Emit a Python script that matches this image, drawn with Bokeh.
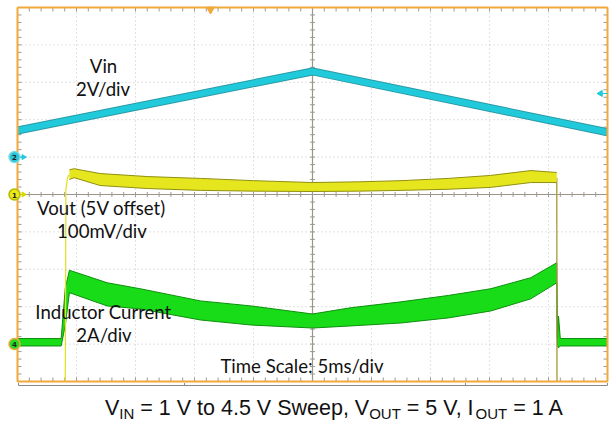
import numpy as np
from bokeh.plotting import figure
from bokeh.models import Range1d
from bokeh.core.properties import value
from bokeh.embed import file_html
from bokeh.resources import INLINE

# ---------------- data (read from the scope capture) ----------------
# Channel 2: Vin, 2 V/div, volts vs time (ms)
vin_t = [-25.0, 0.0, 25.0]
vin_v = [1.42, 4.58, 1.33]

# Channel 1: Vout (5 V offset), 100 mV/div, ripple envelope in mV
vout_t  = [-20.6, -20.2, -18.0, -14.0, -9.5, -5.0, 0.0, 4.0, 7.5, 11.5, 15.1, 18.5, 20.2, 20.7]
vout_hi = [66, 69, 56, 48, 43, 37, 32, 34, 37, 43, 51, 64, 60, 59]
vout_lo = [40, 45, 24, 16, 11, 9, 8, 9, 11, 14, 19, 32, 32, 32]
# Vout turn-on / turn-off edges (mV)
vout_on_t = [-20.95, -20.9, -20.75, -20.6]
vout_on_v = [-500, 15, 45, 53]
vout_off_t = [20.7, 20.72]
vout_off_v = [45, -500]

# Channel 4: inductor current, 2 A/div, ripple envelope in A
il_t  = [-25.0, -21.3, -20.95, -20.6, -17.4, -14.6, -9.5, -5.2, 0.0, 3.2, 7.5, 11.5, 15.1, 18.5, 20.7, 20.75, 20.85, 21.0, 25.0]
il_hi = [0.3, 0.3, 3.0, 3.95, 3.28, 2.96, 2.31, 2.04, 1.61, 1.94, 2.26, 2.6, 2.96, 3.55, 4.35, 0.3, 1.5, 0.3, 0.3]
il_lo = [-0.1, -0.1, 1.0, 2.75, 2.04, 1.88, 1.29, 1.02, 0.86, 0.97, 1.13, 1.4, 1.77, 2.42, 3.28, -0.1, -0.2, -0.1, -0.1]

# scope settings
TIME_PER_DIV = 5.0       # ms/div
CH1_POS, CH1_SCALE = 0.0, 100.0   # div, mV/div
CH2_POS, CH2_SCALE = 1.0, 2.0     # div, V/div
CH4_POS, CH4_SCALE = -4.0, 2.0    # div, A/div

annotations = ["Vin", "2V/div", "Vout (5V offset)", "100mV/div",
               "Inductor Current", "2A/div", "Time Scale: 5ms/div"]

# ---------------- page geometry ----------------
W, H = 612, 423
PX_DIV_X, PX_DIV_Y = 59.0, 37.4
CX, CY = 312.0, 194.0          # canvas px of screen centre
BASE_FIX = 0.34                # em: baseline correction for text placement

def px2x(px):  # canvas px -> ms
    return (px - CX) / PX_DIV_X * TIME_PER_DIV

def py2y(py):  # canvas px -> div
    return (CY - py) / PX_DIV_Y

x0, x1 = px2x(0), px2x(W)
y0, y1 = py2y(H), py2y(0)

p = figure(width=W, height=H, output_backend="svg", toolbar_location=None,
           x_range=Range1d(x0, x1), y_range=Range1d(y0, y1),
           x_axis_location=None, y_axis_location=None, min_border=0)
p.outline_line_color = None
p.grid.visible = False
p.background_fill_color = "white"

p.extra_y_ranges = {
    "vin": Range1d((y0 - CH2_POS) * CH2_SCALE, (y1 - CH2_POS) * CH2_SCALE),
    "vout": Range1d((y0 - CH1_POS) * CH1_SCALE, (y1 - CH1_POS) * CH1_SCALE),
    "il": Range1d((y0 - CH4_POS) * CH4_SCALE, (y1 - CH4_POS) * CH4_SCALE),
}

XL, XR = -5 * TIME_PER_DIV, 5 * TIME_PER_DIV
YB, YT = -5.0, 5.0

# ---------------- graticule ----------------
gx = [k * TIME_PER_DIV for k in range(-4, 5) if k != 0]
p.segment(x0=gx, y0=[YB] * len(gx), x1=gx, y1=[YT] * len(gx),
          line_color="#c4c4c4", line_width=1, line_dash="1 3")
gy = [k for k in range(-4, 5) if k != 0]
p.segment(x0=[XL] * len(gy), y0=gy, x1=[XR] * len(gy), y1=gy,
          line_color="#c4c4c4", line_width=1, line_dash="1 3")
# centre lines
p.segment(x0=[0, XL], y0=[YB, 0], x1=[0, XR], y1=[YT, 0],
          line_color="#9c9486", line_width=1.2)

# minor ticks
mx = np.arange(XL, XR + 1e-9, TIME_PER_DIV / 5)
my = np.arange(YB, YT + 1e-9, 0.2)
tl_y = 4 / PX_DIV_Y
tl_x = 4 / PX_DIV_X * TIME_PER_DIV
cl_y = 2.5 / PX_DIV_Y
cl_x = 2.5 / PX_DIV_X * TIME_PER_DIV
tick_col = "#9a9a9a"
p.segment(x0=mx, y0=[YT] * len(mx), x1=mx, y1=[YT - tl_y] * len(mx), line_color=tick_col)
p.segment(x0=mx, y0=[YB] * len(mx), x1=mx, y1=[YB + tl_y] * len(mx), line_color=tick_col)
p.segment(x0=mx, y0=[-cl_y] * len(mx), x1=mx, y1=[cl_y] * len(mx), line_color=tick_col)
p.segment(x0=[XL] * len(my), y0=my, x1=[XL + tl_x] * len(my), y1=my, line_color=tick_col)
p.segment(x0=[XR] * len(my), y0=my, x1=[XR - tl_x] * len(my), y1=my, line_color=tick_col)
p.segment(x0=[-cl_x] * len(my), y0=my, x1=[cl_x] * len(my), y1=my, line_color=tick_col)

# ---------------- traces ----------------
# inductor current (green)
p.varea(x=il_t, y1=il_lo, y2=il_hi, y_range_name="il", fill_color="#19dc19")
p.line(il_t, il_hi, y_range_name="il", line_color="#0e8f0e", line_width=1)
p.line(il_t, il_lo, y_range_name="il", line_color="#0e8f0e", line_width=1)

# Vout (yellow)
p.line(vout_on_t, vout_on_v, y_range_name="vout", line_color="#e2e22a", line_width=1.3)
p.line(vout_off_t, vout_off_v, y_range_name="vout", line_color="#a89a3a", line_width=1.3)
p.varea(x=vout_t, y1=vout_lo, y2=vout_hi, y_range_name="vout", fill_color="#e6e61e")
p.line(vout_t, vout_hi, y_range_name="vout", line_color="#8f8f10", line_width=1)
p.line(vout_t, vout_lo, y_range_name="vout", line_color="#8f8f10", line_width=1)

# Vin (cyan)
p.line(vin_t, vin_v, y_range_name="vin", line_color="#2a9aa6", line_width=8)
p.line(vin_t, vin_v, y_range_name="vin", line_color="#20cadb", line_width=6)

# ---------------- frame border ----------------
p.segment(x0=[XL, XR, XL, XL], y0=[YB, YB, YT, YB], x1=[XL, XR, XR, XR], y1=[YT, YT, YT, YB],
          line_color="#f2a93b", line_width=2)
# overview bar below
p.segment(x0=[px2x(18)], y0=[py2y(385)], x1=[px2x(607)], y1=[py2y(385)],
          line_color="#8a8a8a", line_width=1)
p.segment(x0=[px2x(18), px2x(607), px2x(184), px2x(465)],
          y0=[py2y(385)] * 4,
          x1=[px2x(18), px2x(607), px2x(184), px2x(465)],
          y1=[py2y(382.5)] * 4, line_color="#8a8a8a", line_width=1)

# trigger position marker (top) and trigger level (right)
p.scatter([px2x(210)], [py2y(9)], marker="inverted_triangle", size=8,
          fill_color="#f2a93b", line_color="#f2a93b")
p.segment(x0=[px2x(599)], y0=[py2y(93)], x1=[px2x(607)], y1=[py2y(93)],
          line_color="#20cadb", line_width=1.2)
p.scatter([px2x(600)], [py2y(93)], marker="triangle", angle=np.pi / 2, size=6,
          fill_color="#20cadb", line_color="#20cadb")

# channel ground markers
mk_x = px2x(14)
ar_x = px2x(23)
for rng, lbl, fill, edge, arrow in [("vin", "2", "#2cc6d8", "#7adbe6", "#20cadb"),
                                    ("vout", "1", "#e8e81a", "#b9b900", "#d8d800"),
                                    ("il", "4", "#22dd22", "#f2a93b", None)]:
    if arrow:
        p.segment(x0=[mk_x], y0=[0], x1=[ar_x], y1=[0], y_range_name=rng,
                  line_color=arrow, line_width=1.2)
        p.scatter([ar_x], [0], y_range_name=rng, marker="triangle", angle=-np.pi / 2,
                  size=5, fill_color=arrow, line_color=arrow)
    p.scatter([mk_x], [0], y_range_name=rng, marker="circle", size=11,
              fill_color=fill, line_color=edge, line_width=1.5)
    p.text([mk_x], [0], text=[lbl], y_range_name=rng, text_font_size="7px",
           text_font=value("DejaVu Sans"), text_font_style="bold",
           text_align="center", text_baseline="middle", text_color="#222222")

# ---------------- annotation texts ----------------
ANN_SIZE = 18.6
ann_px = [103, 102.5, 101, 101.5, 103, 103.5, 301.5]
ann_py = [72, 95, 214, 237, 318, 341, 372]
p.text([px2x(v) for v in ann_px],
       [py2y(v - BASE_FIX * ANN_SIZE) for v in ann_py], text=annotations,
       text_font=value("Lato"), text_font_size=f"{ANN_SIZE}px", text_color="#111111",
       text_align="center", text_baseline="alphabetic")

# ---------------- caption with subscripts ----------------
ARIAL = {' ': 278, '=': 584, '1': 556, '4': 556, '5': 556, '.': 278, ',': 278,
         'V': 667, 'I': 278, 'N': 722, 'O': 778, 'U': 722, 'T': 611, 't': 278,
         'o': 556, 'S': 667, 'w': 722, 'e': 556, 'p': 556, 'A': 667}
MAIN, SUB = 21.5, 15.0
parts = [("V", False), ("IN", True), (" = 1 V to 4.5 V Sweep, V", False), ("OUT", True),
         (" = 5 V, I", False), ("OUT", True), (" = 1 A", False)]

def adv(s, size):
    return sum(ARIAL[c] for c in s) * size / 1000

widths = [adv(s, SUB if sub else MAIN) for s, sub in parts]
cur = 334 - sum(widths) / 2
for (s, sub), w in zip(parts, widths):
    size = SUB if sub else MAIN
    lead = len(s) - len(s.lstrip(" "))
    xs = cur + adv(" " * lead, size)   # SVG drops leading blanks: offset instead
    base = 418.5 if sub else 415
    p.text([px2x(xs)], [py2y(base - BASE_FIX * size)], text=[s.lstrip(" ")],
           text_font=value("Liberation Sans"),
           text_font_size=f"{size}px", text_color="#111111",
           text_align="left", text_baseline="alphabetic")
    cur += w

open("out.html", "w").write(file_html(p, INLINE))
